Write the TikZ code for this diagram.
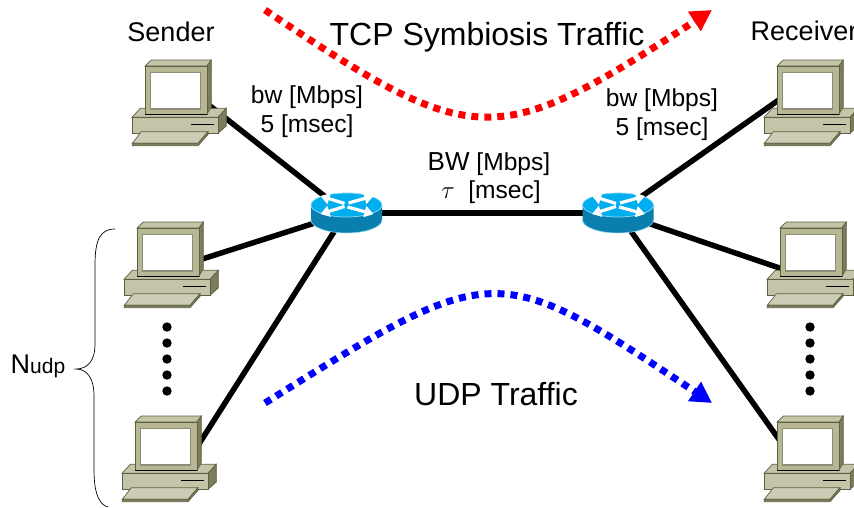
\documentclass[tikz,border=0pt]{standalone}
\usepackage{fontspec}
\setmainfont{Liberation Sans}
\usetikzlibrary{arrows.meta,positioning}

\definecolor{pcfront}{HTML}{B7B793}
\definecolor{pcbase}{HTML}{C4C4A8}
\definecolor{pcside}{HTML}{7D7D5E}
\definecolor{pcline}{HTML}{5F5F42}
\definecolor{pcscreen}{HTML}{8C8C78}
\definecolor{rttop}{HTML}{00AEEF}
\definecolor{rtside}{HTML}{0A7FAE}
\definecolor{rtrim}{HTML}{8ADCF8}

\tikzset{
computer/.pic={
	% base
	\draw [pcline, fill=pcbase, line width=.7pt] (-4.7,42.3) -- (81.3,42.3) -- (73,51.3) -- (-13,51.3) -- cycle;
	\draw [pcline, fill=pcside, line width=.7pt] (73,51.3) -- (81.3,42.3) -- (81.3,60) -- (73,67.3) -- cycle;
	\draw [pcline, fill=pcbase, line width=.7pt] (-13,51.3) rectangle (73,67.3);
	\draw [black, line width=1pt] (46.3,58.3) -- (68.7,58.3);
	% keyboard
	\draw [pcline, fill=pcbase!85!white, line width=.7pt] (-3.7,65.7) -- (63,65.7) -- (53,77.3) -- (-12.7,77.3) -- cycle;
	\draw [pcline, fill=pcside, line width=.7pt] (-12.7,77.3) -- (53,77.3) -- (63,65.7) -- (63,68.5) -- (53,79.7) -- (-12.7,79.7) -- cycle;
	% monitor
	\draw [pcline, fill=pcbase, line width=.7pt] (0,0) -- (6.3,-6) -- (66.3,-6) -- (62,0) -- cycle;
	\draw [pcline, fill=pcside, line width=.7pt] (62,0) -- (66.3,-6) -- (66.3,41) -- (62,48) -- cycle;
	\draw [pcline, fill=pcfront, line width=.7pt] (0,0) rectangle (62,48);
	\draw [black, line width=1.5pt] (0,48.3) -- (62,48.3);
	\draw [pcscreen, fill=white, line width=1.2pt] (5.3,6.7) rectangle (55.3,43);
},
router/.pic={
	\fill [rtside] (-35.5,-7) -- (-35.5,8) arc [start angle=180, end angle=0, x radius=35.5, y radius=13] -- (35.5,-7) -- cycle;
	\draw [rtrim, line width=.6pt] (-35.5,8) arc [start angle=180, end angle=0, x radius=35.5, y radius=13];
	\draw [rtrim, fill=rttop, line width=.7pt] (0,-7) ellipse [x radius=35.5, y radius=12];
	\draw [white, line width=3.2pt, -{Triangle[length=9pt,width=11pt]}] (-2,-8.5) -- (-26,-16);
	\draw [white, line width=3.2pt, -{Triangle[length=9pt,width=11pt]}] (2,-9) -- (27,-16);
	\draw [white, line width=3.2pt, -{Triangle[length=9pt,width=11pt]}] (-2,-5.5) -- (-26,2);
	\draw [white, line width=3.2pt, -{Triangle[length=9pt,width=11pt]}] (1,-5) -- (27,2);
}
}

\begin{document}
\begin{tikzpicture}[x=1pt,y=-1pt,
hook/.style={inner sep=0pt, minimum size=0pt},
link/.style={black, line width=5.5pt},
dotrow/.style={black},
flow/.style={line width=7pt, dash pattern=on 7pt off 6pt, -{Triangle[length=21pt,width=22pt]}},
brace/.style={black, line width=.7pt},
label/.style={inner sep=0pt, anchor=base, align=center, font=\fontsize{24.6}{28}\selectfont},
biglabel/.style={inner sep=0pt, anchor=base, font=\fontsize{27}{28}\selectfont},
title/.style={inner sep=0pt, anchor=base, font=\fontsize{32}{34}\selectfont}]
\useasboundingbox (0,0) rectangle (854,507);

\node [hook] (rtA) at (346,213) {};
\node [hook] (rtB) at (618,213) {};
\node [hook] (s1) at (200,98) {};
\node [hook] (s2) at (168,270) {};
\node [hook] (s3) at (190,458) {};
\node [hook] (r1) at (790,92) {};
\node [hook] (r2) at (800,275) {};
\node [hook] (r3) at (795,462) {};

\draw [link] (rtA) -- (rtB);
\draw [link] (rtA) -- (s1);
\draw [link] (rtA) -- (s2);
\draw [link] (rtA) -- (s3);
\draw [link] (rtB) -- (r1);
\draw [link] (rtB) -- (r2);
\draw [link] (rtB) -- (r3);

\pic at (145,66) {computer};
\pic at (137,228) {computer};
\pic at (135,422) {computer};
\pic at (777,66) {computer};
\pic at (780,228) {computer};
\pic at (777,422) {computer};
\pic at (346.5,212) {router};
\pic at (618,212) {router};

\foreach \y in {327,343,359,375,391} {
	\fill [dotrow] (167,\y) circle (4.7);
	\fill [dotrow] (810,\y) circle (4.7);
}

\draw [brace] (115,229) .. controls (100,229) and (95,240) .. (95,265) -- (95,345)
	.. controls (95,360) and (88,369) .. (76,369)
	.. controls (88,369) and (94,380) .. (94,395) -- (94,470)
	.. controls (94,495) and (100,505) .. (108,507);

\draw [flow, red] (265,10) .. controls (475,151) and (495,151) .. (712,10);
\draw [flow, blue] (265,403) .. controls (495,259) and (495,259) .. (712,403);

\node [biglabel] (senderlbl) at (171,41) {Sender};
\node [biglabel] (receiverlbl) at (804,40) {Receiver};
\node [title] (tcplbl) at (487,45) {TCP Symbiosis Traffic};
\node [title] (udplbl) at (496,405) {UDP Traffic};
\node [label] (leftbw) at (307,103) {bw [Mbps]};
\node [label] (leftdelay) at (307,132) {5 [msec]};
\node [label] (rightbw) at (662,106) {bw [Mbps]};
\node [label] (rightdelay) at (662,135) {5 [msec]};
\node [label] (corebw) at (489,170) {{\fontsize{26}{28}\selectfont BW} [Mbps]};
\node [label] (coredelay) at (491,198) {$\tau$\ \ [msec]};
\node [biglabel] (nudplbl) at (38,373) {N{\fontsize{21}{28}\selectfont udp}};
\end{tikzpicture}
\end{document}
